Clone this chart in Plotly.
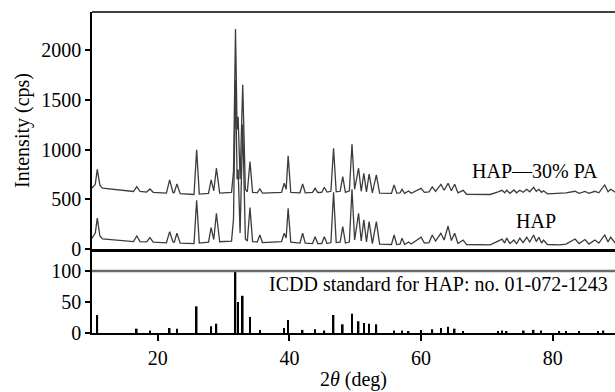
import plotly.graph_objects as go

# ---------------- data ----------------
# HAP—30% PA diffractogram (upper trace): 2theta (deg) and intensity (cps)
pa_x = [10.0, 10.5, 10.8, 11.2, 11.6, 13.0, 14.5, 16.3, 16.8, 17.3, 18.3, 18.8, 19.3,
        21.3, 21.8, 22.3, 22.5, 22.9, 23.4, 25.5, 25.9, 26.3, 27.7, 28.1, 28.5, 28.9, 29.4,
        31.2, 31.5, 31.8, 32.05, 32.2, 32.5, 32.9, 33.3, 33.6, 34.0, 34.4, 35.1, 35.5, 35.9,
        38.8, 39.2, 39.5, 39.8, 40.2, 41.6, 42.0, 42.4, 43.5, 43.9, 44.3, 44.9, 45.3, 45.7,
        46.3, 46.7, 47.1, 47.7, 48.1, 48.5, 49.1, 49.5, 49.9, 50.5, 50.9, 51.3, 51.7, 52.1,
        52.6, 53.2, 53.7, 55.5, 55.9, 56.3, 56.8, 57.1, 57.5, 58.1, 58.5, 60.0, 60.5, 61.2,
        61.7, 62.2, 63.0, 63.5, 64.1, 64.6, 65.1, 65.6, 66.4, 66.9, 69.0, 70.5, 71.7, 72.3,
        72.7, 73.0, 73.5, 74.1, 74.5, 75.0, 75.5, 76.05, 76.5, 77.1, 77.5, 77.9, 78.3, 78.6,
        79.2, 81.0, 82.0, 83.4, 84.0, 84.9, 85.5, 86.4, 87.0, 87.9, 88.4, 88.8, 89.5]
pa_y = [612, 650, 800, 640, 612, 600, 588, 578, 627, 578, 572, 603, 570,
        562, 694, 568, 568, 654, 556, 548, 996, 552, 560, 694, 585, 812, 562,
        570, 780, 2210, 1200, 1330, 700, 1650, 600, 575, 878, 570, 565, 603, 562,
        570, 661, 600, 936, 570, 565, 655, 565, 570, 610, 568, 570, 620, 572,
        580, 1013, 575, 580, 727, 570, 585, 1053, 600, 812, 580, 761, 575, 754,
        565, 744, 562, 560, 644, 562, 565, 600, 560, 583, 560, 610, 570, 575,
        625, 580, 650, 590, 660, 585, 650, 565, 590, 550, 545, 548, 575, 590,
        565, 590, 560, 593, 565, 590, 570, 600, 575, 620, 580, 600, 570, 585,
        555, 558, 565, 580, 560, 578, 560, 580, 565, 644, 575, 600, 570]

# HAP diffractogram (lower trace)
hap_x = pa_x
hap_y = [108, 160, 310, 130, 102, 95, 85, 75, 131, 75, 72, 114, 70,
         62, 174, 70, 68, 158, 58, 55, 490, 60, 70, 215, 95, 359, 73,
         80, 300, 1700, 700, 800, 160, 1250, 100, 80, 416, 75, 70, 141, 65,
         75, 158, 110, 409, 70, 60, 158, 58, 55, 124, 55, 55, 124, 55,
         65, 570, 65, 70, 225, 60, 70, 600, 90, 359, 80, 292, 70, 275,
         55, 275, 50, 45, 141, 45, 48, 108, 45, 70, 50, 118, 60, 65,
         141, 80, 158, 90, 231, 85, 158, 55, 90, 45, 40, 42, 80, 100,
         60, 110, 55, 90, 55, 108, 65, 118, 70, 141, 75, 118, 60, 90,
         45, 42, 50, 100, 55, 95, 50, 90, 60, 141, 70, 118, 60]

# ICDD standard for HAP no. 01-072-1243: line positions and relative intensity
icdd_pos = [10.8, 16.8, 18.8, 21.8, 22.9, 25.9, 28.1, 28.9, 31.8, 32.2, 32.9, 34.0,
            35.5, 39.2, 39.8, 42.0, 43.9, 45.3, 46.7, 48.1, 49.5, 50.5, 51.3, 52.1,
            53.2, 55.9, 57.1, 58.1, 60.0, 61.7, 63.0, 64.1, 65.1, 66.4, 71.7, 72.3,
            73.0, 75.6, 77.1, 78.2, 81.0, 82.0, 84.0, 86.9, 87.7]
icdd_int = [29, 7, 4, 8, 7, 43, 11, 15, 100, 50, 60, 26,
            5, 8, 21, 5, 6, 4, 29, 14, 31, 19, 16, 15,
            14, 4, 4, 3, 5, 6, 8, 10, 7, 3, 3, 4,
            3, 4, 5, 4, 3, 3, 3, 3, 4]

top_ticks = [0, 500, 1000, 1500, 2000]
bottom_ticks = [0, 50, 100]
x_ticks = [20, 40, 60, 80]

# ---------------- figure ----------------
FONT = "Liberation Serif"
X_RANGE = [10, 89.46]

fig = go.Figure()
fig.add_trace(go.Scatter(x=pa_x, y=pa_y, mode="lines", xaxis="x2", yaxis="y",
                         line=dict(color="#3c3c3c", width=1.3), showlegend=False))
fig.add_trace(go.Scatter(x=hap_x, y=hap_y, mode="lines", xaxis="x2", yaxis="y",
                         line=dict(color="#3c3c3c", width=1.3), showlegend=False))
fig.add_trace(go.Bar(x=icdd_pos, y=icdd_int, xaxis="x", yaxis="y2", width=0.25,
                     marker=dict(color="black", line=dict(width=0)), showlegend=False))

split = 84 / 321

fig.update_layout(
    width=615, height=392,
    margin=dict(l=92, r=0, t=12, b=59),
    template="none",
    paper_bgcolor="white", plot_bgcolor="white",
    font=dict(family=FONT, size=20, color="black"),
    xaxis=dict(domain=[0, 1], anchor="y2", range=X_RANGE, tickvals=x_ticks,
               ticks="outside", ticklen=6, tickwidth=2, tickcolor="black",
               showline=True, linecolor="black", linewidth=2, showgrid=False,
               zeroline=False, automargin=False,
               title=dict(text="2<i>θ</i> (deg)", standoff=4,
                          font=dict(family=FONT, size=20))),
    xaxis2=dict(domain=[0, 1], anchor="y", matches="x", range=X_RANGE,
                showticklabels=False, ticks="", showline=True, linecolor="black",
                linewidth=2.5, showgrid=False, zeroline=False, automargin=False),
    yaxis=dict(domain=[split, 1], anchor="x2", range=[0, 2382], tickvals=top_ticks,
               ticks="outside", ticklen=5, tickwidth=1.5, tickcolor="black",
               showline=True, linecolor="black", linewidth=1.5, showgrid=False,
               zeroline=False, automargin=False,
               title=dict(text="Intensity (cps)", standoff=6,
                          font=dict(family=FONT, size=20))),
    yaxis2=dict(domain=[0, split], anchor="x", range=[0, 135.5], tickvals=bottom_ticks,
                ticks="outside", ticklen=5, tickwidth=1.5, tickcolor="black",
                showline=True, linecolor="black", linewidth=1.5, showgrid=False,
                zeroline=False, automargin=False),
    shapes=[
        dict(type="line", xref="paper", yref="paper", x0=0, x1=1, y0=1, y1=1,
             line=dict(color="black", width=1.5)),
        dict(type="line", xref="paper", yref="y2", x0=0, x1=1, y0=100, y1=100,
             line=dict(color="#6b6b6b", width=2.5)),
    ],
    annotations=[
        dict(text="HAP—30% PA", x=87.2, y=785, xref="x2", yref="y", showarrow=False,
             xanchor="right", yanchor="middle", font=dict(family=FONT, size=20)),
        dict(text="HAP", x=77.5, y=282, xref="x2", yref="y", showarrow=False,
             xanchor="center", yanchor="middle", font=dict(family=FONT, size=20)),
        dict(text="ICDD standard for HAP: no. 01-072-1243", x=88.7, y=79, xref="x",
             yref="y2", showarrow=False, xanchor="right", yanchor="middle",
             font=dict(family=FONT, size=20)),
    ],
)

fig.write_html("out.html")
